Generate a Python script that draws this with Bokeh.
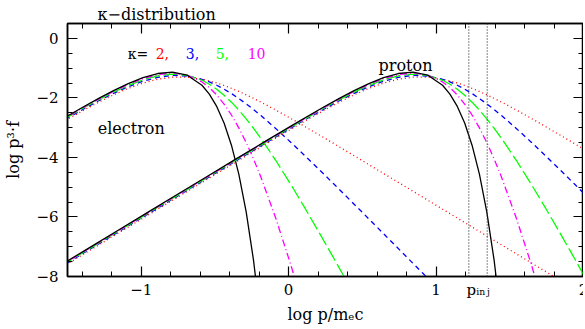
from bokeh.plotting import figure
from bokeh.models import LinearAxis, FixedTicker, Label, Span, Range1d, CustomJSTickFormatter
from bokeh.embed import file_html
from bokeh.resources import INLINE

# ---- data ----
x_electron = [-3.188, -2.988, -2.788, -2.588, -2.388, -2.188, -1.988, -1.788, -1.688, -1.588,
              -1.488, -1.388, -1.288, -1.188, -1.088, -0.988, -0.888, -0.788, -0.688, -0.588,
              -0.538, -0.488, -0.438, -0.388, -0.338, -0.288, -0.238, -0.188, -0.088, 0.012,
              0.112, 0.212, 0.312, 0.412, 0.512, 0.712, 0.912, 1.112, 1.312, 1.512, 1.712, 1.912]
x_proton = [-1.556, -1.356, -1.156, -0.956, -0.756, -0.556, -0.356, -0.156, -0.056, 0.044,
            0.144, 0.244, 0.344, 0.444, 0.544, 0.644, 0.744, 0.844, 0.944, 1.044,
            1.094, 1.144, 1.194, 1.244, 1.294, 1.344, 1.394, 1.444, 1.544, 1.644,
            1.744, 1.844, 1.944, 2.044, 2.144, 2.344, 2.544, 2.744, 2.944, 3.144, 3.344, 3.544]

y_maxwell = [-7.646, -7.046, -6.446, -5.846, -5.246, -4.647, -4.048, -3.453, -3.157, -2.863,
             -2.573, -2.289, -2.015, -1.755, -1.519, -1.320, -1.180, -1.134, -1.237, -1.575,
             -1.872, -2.286, -2.845, -3.589, -4.563, -5.829, -7.461, -9.556]
y_kappa2 = [-7.744, -7.144, -6.544, -5.944, -5.345, -4.745, -4.148, -3.554, -3.260, -2.970,
            -2.684, -2.407, -2.143, -1.898, -1.680, -1.501, -1.372, -1.304, -1.304, -1.371,
            -1.428, -1.500, -1.583, -1.678, -1.783, -1.896, -2.015, -2.141, -2.405, -2.682,
            -2.967, -3.257, -3.551, -3.847, -4.145, -4.743, -5.341, -5.941, -6.541, -7.141,
            -7.741, -8.341]
y_kappa3 = [-7.707, -7.107, -6.507, -5.907, -5.307, -4.708, -4.110, -3.516, -3.221, -2.930,
            -2.643, -2.364, -2.096, -1.847, -1.623, -1.438, -1.307, -1.244, -1.264, -1.374,
            -1.463, -1.574, -1.705, -1.854, -2.020, -2.200, -2.392, -2.594, -3.025, -3.479,
            -3.950, -4.431, -4.919, -5.411, -5.906, -6.902, -7.900, -8.899]
y_kappa5 = [-7.681, -7.081, -6.481, -5.881, -5.281, -4.682, -4.084, -3.489, -3.194, -2.901,
            -2.613, -2.332, -2.062, -1.808, -1.580, -1.390, -1.256, -1.198, -1.241, -1.407,
            -1.540, -1.708, -1.909, -2.143, -2.408, -2.702, -3.020, -3.360, -4.095, -4.886,
            -5.714, -6.568, -7.438, -8.319]
y_kappa10 = [-7.663, -7.063, -6.463, -5.863, -5.263, -4.664, -4.066, -3.470, -3.175, -2.882,
             -2.593, -2.310, -2.038, -1.781, -1.549, -1.355, -1.218, -1.166, -1.233, -1.464,
             -1.653, -1.900, -2.206, -2.574, -3.006, -3.500, -4.053, -4.664, -6.033, -7.566,
             -9.218]

kappa_texts = ["2,", "3,", "5,", "10"]
p_inj = [1.222, 1.347]
p_inj_label_x = 1.285

x_major = [-1, 0, 1, 2]
x_minor = [-1.4, -1.2, -0.8, -0.6, -0.4, -0.2, 0.2, 0.4, 0.6, 0.8, 1.2, 1.4, 1.6, 1.8]
y_major = [-8, -6, -4, -2, 0]
y_minor = [-7.5, -7.0, -6.5, -5.5, -5.0, -4.5, -3.5, -3.0, -2.5, -1.5, -1.0, -0.5]

FONT = "DejaVu Serif"

p = figure(frame_width=516, frame_height=253,
           x_range=Range1d(-1.5, 2), y_range=Range1d(-8, 0.5),
           output_backend="svg", toolbar_location=None,
           x_axis_location=None,
           min_border_left=67, min_border_top=23, min_border_bottom=53, min_border_right=0,
           y_axis_label="log p\u00b3\u00b7f")
p.xgrid.visible = False
p.ygrid.visible = False
p.outline_line_color = "black"
p.outline_line_width = 1.5
p.background_fill_color = "white"
p.border_fill_color = "white"

p.title.text = "\u03ba\u2212distribution"
p.title.text_font = FONT
p.title.text_font_size = "16px"
p.title.text_font_style = "normal"
p.title.text_color = "black"
p.title.align = "left"
p.title.offset = 30
p.title.standoff = 0

minus_fmt = "return tick < 0 ? '\u2212' + (-tick) : String(tick);"

def style_ticks(ax, major, minor):
    ax.ticker = FixedTicker(ticks=major, minor_ticks=minor)
    ax.major_tick_in = 10
    ax.major_tick_out = 0
    ax.minor_tick_in = 5
    ax.minor_tick_out = 0
    ax.axis_line_width = 1.5
    ax.axis_line_color = "black"
    ax.major_tick_line_color = "black"
    ax.minor_tick_line_color = "black"
    ax.major_tick_line_width = 1.2
    ax.minor_tick_line_width = 1.0

def hide_labels(ax):
    ax.formatter = CustomJSTickFormatter(code="return '';")
    ax.major_label_text_font_size = "0px"
    ax.major_label_standoff = 0

# left axis (labels)
yax = p.yaxis[0]
style_ticks(yax, y_major, y_minor)
yax.formatter = CustomJSTickFormatter(code=minus_fmt)
yax.major_label_text_font = FONT
yax.major_label_text_font_size = "15px"
yax.major_label_text_color = "black"
yax.major_label_standoff = 9
yax.axis_label_text_font = FONT
yax.axis_label_text_font_size = "16px"
yax.axis_label_text_font_style = "normal"
yax.axis_label_text_color = "black"
yax.axis_label_standoff = 10

# bottom: tick-only axis next to the frame, then a label-only axis
xticks_ax = LinearAxis()
style_ticks(xticks_ax, x_major, x_minor)
hide_labels(xticks_ax)
p.add_layout(xticks_ax, "below")

xlab_ax = LinearAxis(ticker=FixedTicker(ticks=x_major + [p_inj_label_x], minor_ticks=[]))
xlab_ax.axis_line_color = None
xlab_ax.major_tick_line_color = None
xlab_ax.minor_tick_line_color = None
xlab_ax.major_tick_in = 0
xlab_ax.major_tick_out = 0
xlab_ax.minor_tick_in = 0
xlab_ax.minor_tick_out = 0
xlab_ax.formatter = CustomJSTickFormatter(
    args=dict(pinj=p_inj_label_x),
    code="if (Math.abs(tick - pinj) < 1e-6) { return 'p\u1d62\u2099\u2c7c'; } " + minus_fmt)
xlab_ax.major_label_text_font = FONT
xlab_ax.major_label_text_font_size = "15px"
xlab_ax.major_label_text_color = "black"
xlab_ax.major_label_standoff = 4
xlab_ax.axis_label = "log p/m\u2091c"
xlab_ax.axis_label_text_font = FONT
xlab_ax.axis_label_text_font_size = "16px"
xlab_ax.axis_label_text_font_style = "normal"
xlab_ax.axis_label_text_color = "black"
xlab_ax.axis_label_standoff = 3
p.add_layout(xlab_ax, "below")

top = LinearAxis()
style_ticks(top, x_major, x_minor)
hide_labels(top)
p.add_layout(top, "above")
right = LinearAxis()
style_ticks(right, y_major, y_minor)
hide_labels(right)
p.add_layout(right, "right")

styles = [
    (y_kappa2, "#ff0000", "1 3"),
    (y_kappa3, "#0000ff", "5 4"),
    (y_kappa5, "#00ff00", "14 4"),
    (y_kappa10, "#ff00ff", "7 3 1 3"),
    (y_maxwell, "black", "solid"),
]
for xs in (x_electron, x_proton):
    for ys, color, dash in styles:
        n = len(ys)
        p.line(xs[:n], ys, line_color=color, line_dash=dash, line_width=1.3)

for xv in p_inj:
    p.add_layout(Span(location=xv, dimension="height", line_color="#333333",
                      line_dash="1 2", line_width=1.2))

def label(x, y, text, size="16px", color="black"):
    p.add_layout(Label(x=x, y=y, text=text, text_font=FONT, text_font_size=size,
                       text_color=color, text_baseline="alphabetic", text_align="left"))

label(-1.092, -0.524, "\u03ba=", size="14px")
kappa_x = [-0.902, -0.698, -0.495, -0.278]
kappa_colors = ["#ff0000", "#0000ff", "#00ff00", "#ff00ff"]
for kx, kt, kc in zip(kappa_x, kappa_texts, kappa_colors):
    label(kx, -0.524, kt, size="14px", color=kc)
label(-1.295, -3.03, "electron")
label(0.61, -0.916, "proton")

open("out.html", "w").write(file_html(p, INLINE))
